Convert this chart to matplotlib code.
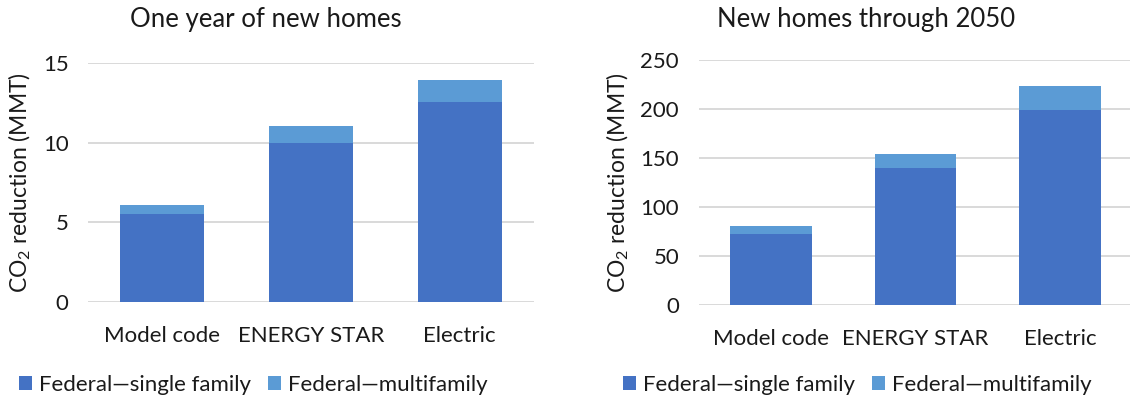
import matplotlib
matplotlib.use("Agg")
import matplotlib.pyplot as plt
import numpy as np
from matplotlib.patches import Patch

plt.rcParams['font.family'] = ['Lato', 'DejaVu Sans']
plt.rcParams['mathtext.fontset'] = 'custom'
plt.rcParams['mathtext.rm'] = 'Lato'
plt.rcParams['mathtext.it'] = 'Lato:italic'

categories = ["Model code", "ENERGY STAR", "Electric"]
series_names = ["Federal\u2014single family", "Federal\u2014multifamily"]

# One year of new homes (MMT CO2)
one_year_single = [5.5, 10.0, 12.55]
one_year_multi = [0.62, 1.06, 1.35]

# New homes through 2050 (MMT CO2)
through_single = [72, 139.5, 199]
through_multi = [9, 14.5, 24.5]

titles = ["One year of new homes", "New homes through 2050"]
yticks_left = [0, 5, 10, 15]
yticks_right = [0, 50, 100, 150, 200, 250]

C_SINGLE = "#4472C4"
C_MULTI = "#5B9BD5"
GRID = "#d9d9d9"
TEXT = "#1a1a1a"
FS = 16

W, H = 1130, 398
fig = plt.figure(figsize=(W / 100, H / 100), dpi=100)


def px_axes(x0, x1, ytop, ybot):
    return fig.add_axes([x0 / W, 1 - ybot / H, (x1 - x0) / W, (ybot - ytop) / H])


ax1 = px_axes(88, 534, 62.7, 302.3)
ax2 = px_axes(698.5, 1132.5, 60, 305)


def draw(ax, single, multi, yticks, title, title_x):
    x = np.arange(len(categories))
    ax.bar(x, single, width=0.565, color=C_SINGLE, zorder=3)
    ax.bar(x, multi, width=0.565, bottom=single, color=C_MULTI, zorder=3)
    ax.set_xlim(-0.5, len(categories) - 0.5)
    ax.set_ylim(yticks[0], yticks[-1])
    ax.set_yticks(yticks)
    ax.set_yticklabels([str(t) for t in yticks], fontsize=FS, color=TEXT)
    ax.set_xticks(x)
    ax.set_xticklabels(categories, fontsize=FS, color=TEXT)
    ax.tick_params(axis='both', length=0)
    ax.tick_params(axis='y', pad=14)
    ax.tick_params(axis='x', pad=17)
    ax.yaxis.grid(True, color=GRID, linewidth=1.4, zorder=0)
    ax.set_axisbelow(True)
    for s in ax.spines.values():
        s.set_visible(False)
    ax.set_ylabel("CO$_2$ reduction (MMT)", fontsize=16.5, color=TEXT, labelpad=7)
    fig.text(title_x / W, 1 - 20 / H, title, fontsize=18.5, color=TEXT,
             ha='center', va='center')


draw(ax1, one_year_single, one_year_multi, yticks_left, titles[0], 266)
draw(ax2, through_single, through_multi, yticks_right, titles[1], 866)

handles = [Patch(facecolor=C_SINGLE, edgecolor='none'),
           Patch(facecolor=C_MULTI, edgecolor='none')]
for cx in (253, 857):
    fig.legend(handles, series_names, loc='center', bbox_to_anchor=(cx / W, 1 - 385 / H),
               ncol=2, frameon=False, fontsize=FS, handlelength=0.6,
               handleheight=0.6, handletextpad=0.3, columnspacing=0.75,
               labelcolor=TEXT)

fig.savefig("out.png", dpi=100, facecolor="white")
